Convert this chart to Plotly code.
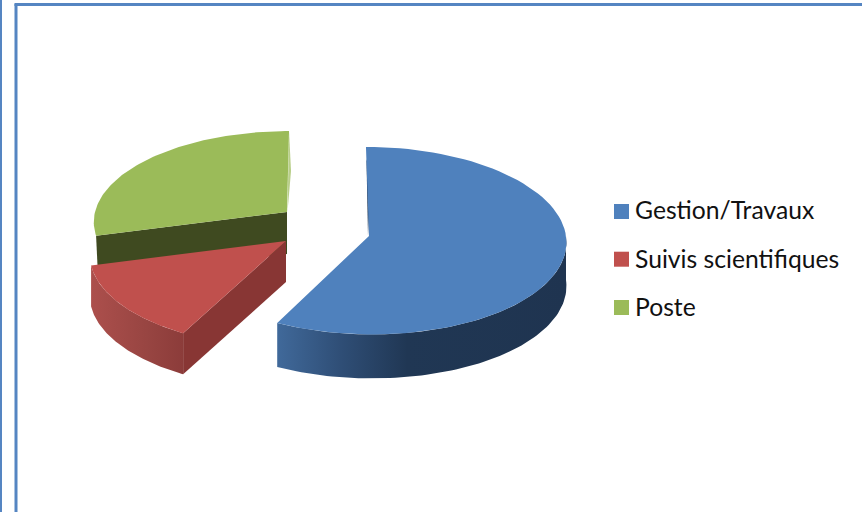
import math
import plotly.graph_objects as go

# ---- data (share of the pie, percent) ----
categories = ["Gestion/Travaux", "Suivis scientifiques", "Poste"]
values = [57.6, 13.2, 29.2]

# ---- styles ----
top_colors = ["#4F81BD", "#C0504D", "#9BBB59"]
inner_colors = ["#1F3552", "#883634", "#3F4A20"]
wall_scales = [
    [[0, "#40699A"], [0.22, "#2F4E76"], [0.45, "#203754"], [1, "#1F3450"]],
    [[0, "#AC4F4C"], [0.6, "#984542"], [1, "#8C3C3A"]],
    [[0, "#7F9A49"], [1, "#7F9A49"]],
]
# apex x, apex y, radius x, radius y, perspective, depth, shear
geometry = [
    (369, 236, 197, 93.5, 0.05, 44, 0.034),
    (286, 241, 194, 90, 0.15, 41, 0.0),
    (287, 212, 192, 89, 0.10, 42, -0.025),
]
swatch_rows = [204, 251.7, 300]
FRAME = "#5585C2"


def project(geo, t_deg, dy=0):
    ax, ay, rx, ry, k, _, sh = geo
    t = math.radians(t_deg)
    s = 1 / (1 + k * math.cos(t))
    y = -ry * math.cos(t) * s
    return ax + rx * math.sin(t) * s + sh * y, ay + y + dy


def arc(geo, a, b, dy=0, n=80):
    pts = [project(geo, a + (b - a) * i / n, dy) for i in range(n + 1)]
    return [p[0] for p in pts], [p[1] for p in pts]


def poly(xs, ys, group, color=None, scale=None):
    kw = dict(fillcolor=color) if scale is None else dict(
        fillgradient=dict(type="horizontal", colorscale=scale))
    return go.Scatter(x=xs + xs[:1], y=ys + ys[:1], mode="lines", line=dict(width=0),
                      fill="toself", legendgroup=group, showlegend=False,
                      hoverinfo="skip", **kw)


total = sum(values)
bounds = [0]
for v in values:
    bounds.append(bounds[-1] + v / total * 360)

fig = go.Figure()
draw_order = [2, 1, 0]
for i in draw_order:
    geo = geometry[i]
    a, b = bounds[i], bounds[i + 1]
    depth = geo[5]
    ax, ay = geo[0], geo[1]
    name = categories[i]
    if i == 2:  # cut face towards the viewer
        x0, y0 = project(geo, a)
        fig.add_trace(poly([x0, ax, ax, x0 + 2], [y0, ay, ay + depth, y0 + depth], name, inner_colors[i]))
        x1, y1 = project(geo, b)
        fig.add_trace(poly([x1, x1 + 2, ax + 0.5], [y1, y1 + 40, ay], name, "#B9CF8A"))
    if i == 1:  # cut face and rim
        x1, y1 = project(geo, a)
        fig.add_trace(poly([ax, x1, x1, ax], [ay, y1, y1 + depth, ay + depth], name, inner_colors[i]))
        xa, ya = arc(geo, a, b)
        xb, yb = arc(geo, b, a, depth)
        fig.add_trace(poly(xa + xb, ya + yb, name, scale=wall_scales[i]))
    if i == 0:  # rim and thin cut face at the back
        xa, ya = arc(geo, 90, b)
        xb, yb = arc(geo, b, 90, depth)
        fig.add_trace(poly(xa + xb, ya + yb, name, scale=wall_scales[i]))
        x0, y0 = project(geo, a)
        fig.add_trace(poly([x0 + 0.5, ax - 1, ax + 1.5], [y0 + 12, ay, y0 + 30], name, inner_colors[i]))
    xa, ya = arc(geo, a, b)
    fig.add_trace(poly([ax] + xa, [ay] + ya, name, top_colors[i]))

# Legend text comes from a real legend. Its symbols cannot sit as close to the text
# as in the picture, so they stay tiny, on top of same-coloured swatches drawn as shapes.
for i, name in enumerate(categories):
    fig.add_trace(go.Scatter(x=[None], y=[None], mode="markers", name=name, legendgroup=name,
                             marker=dict(symbol="square", size=2, color=top_colors[i],
                                         line=dict(width=0))))

frame_shapes = [
    dict(type="line", xref="x", yref="y", x0=16, x1=16, y0=4, y1=512, line=dict(color=FRAME, width=3)),
    dict(type="line", xref="x", yref="y", x0=14.5, x1=862, y0=4.5, y1=4.5, line=dict(color=FRAME, width=3)),
    dict(type="line", xref="x", yref="y", x0=0.5, x1=0.5, y0=0, y1=512, line=dict(color=FRAME, width=3)),
]
swatch_shapes = [
    dict(type="rect", xref="x", yref="y", x0=614, x1=629, y0=r, y1=r + 15,
         fillcolor=c, line=dict(width=0))
    for r, c in zip(swatch_rows, top_colors)
]

fig.update_layout(
    width=862, height=512, margin=dict(l=0, r=0, t=0, b=0),
    paper_bgcolor="white", plot_bgcolor="white",
    xaxis=dict(range=[0, 862], visible=False, fixedrange=True),
    yaxis=dict(range=[512, 0], visible=False, fixedrange=True),
    legend=dict(x=595 / 862, y=1 - 187 / 512, xanchor="left", yanchor="top",
                font=dict(family="Lato", size=24.7, color="#111111"),
                tracegroupgap=13.4, traceorder="grouped", itemsizing="trace",
                bgcolor="rgba(0,0,0,0)"),
    shapes=frame_shapes + swatch_shapes,
)
fig.write_html("out.html", config={"displayModeBar": False},
               post_script="document.body.style.margin='0';document.body.style.overflow='hidden';")
